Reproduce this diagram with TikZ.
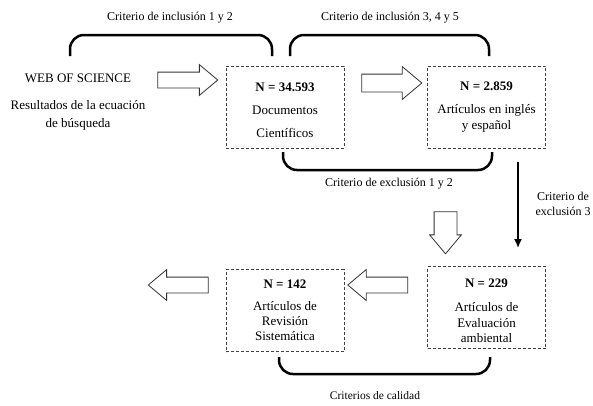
\documentclass[tikz,border=0pt]{standalone}
\usepackage{fontspec}
\setmainfont{Liberation Serif}
\usetikzlibrary{shapes.arrows, arrows.meta, positioning}

\tikzset{
  countbox/.style={draw=black!75, densely dashed, line width=0.8pt,
    minimum width=118pt, minimum height=82pt, align=center, inner sep=0pt,
    font=\fontsize{13}{16}\selectfont},
  bigarrow/.style={single arrow, draw=black!80, line width=0.8pt, fill=white,
    minimum height=60pt, minimum width=30pt, single arrow head extend=7.5pt,
    single arrow tip angle=80, inner sep=7.5pt},
  bracket/.style={line width=2.5pt, rounded corners=14pt},
  lbl/.style={font=\fontsize{12}{15}\selectfont, align=center}
}

\begin{document}
\begin{tikzpicture}[x=1pt, y=-1pt]
  \useasboundingbox (0,0) rectangle (593,405);

  % source
  \node[lbl, font=\fontsize{13}{18}\selectfont] (web) at (78,102)
    {WEB OF SCIENCE\\[9pt]Resultados de la ecuación\\de búsqueda};

  % counts
  \node[countbox, font=\fontsize{13}{23}\selectfont] (docs) at (285,107)
    {\rule{0pt}{15pt}\textbf{N = 34.593}\\Documentos\\Científicos};
  \node[countbox] (idioma) at (486.5,107)
    {\textbf{N = 2.859}\\[7pt]Artículos en inglés\\y español};
  \node[countbox, font=\fontsize{13}{15.5}\selectfont] (evaluacion) at (486.5,307.5)
    {\rule{0pt}{15pt}\textbf{N = 229}\\[9pt]Artículos de\\Evaluación\\ambiental};
  \node[countbox, font=\fontsize{13}{15}\selectfont] (revision) at (285,310.5)
    {\textbf{N = 142}\\[7pt]Artículos de\\Revisión\\Sistemática};

  % block arrows
  \node[bigarrow] (arrA) at (183,80) {};
  \node[bigarrow, inner sep=8.5pt] (arrB) at (386.5,83) {};
  \node[bigarrow, shape border rotate=270, minimum height=42pt, inner sep=11pt,
    single arrow head extend=4.5pt] (arrC) at (445.5,226) {};
  \node[bigarrow, shape border rotate=180] (arrD) at (382.5,285) {};
  \node[bigarrow, shape border rotate=180] (arrE) at (183,285) {};

  % exclusion 3
  \draw[line width=2pt, -{Latex[length=9pt, width=8pt]}]
    ([xshift=31.5pt, yshift=-14pt]idioma.south) -- ([xshift=31.5pt, yshift=18pt]evaluacion.north);
  \node[lbl, anchor=west] (excl3) at (532,204) {Criterio de\\exclusión 3};

  % brackets
  \draw[bracket] (70,56) -- (70,35) -- (272,35) -- (272,56);
  \node[lbl] (inc12) at (170,18) {Criterio de inclusión 1 y 2};

  \draw[bracket] (290,56) -- (290,35) -- (489,35) -- (489,56);
  \node[lbl] (inc345) at (390,18) {Criterio de inclusión 3, 4 y 5};

  \draw[bracket] (283,152) -- (283,170) -- (492,170) -- (492,152);
  \node[lbl] (exc12) at (389,184) {Criterio de exclusión 1 y 2};

  \draw[bracket] (279,357) -- (279,374) -- (490,374) -- (490,357);
  \node[lbl, font=\fontsize{11.5}{15}\selectfont] (calidad) at (375,396) {Criterios de calidad};
\end{tikzpicture}
\end{document}
